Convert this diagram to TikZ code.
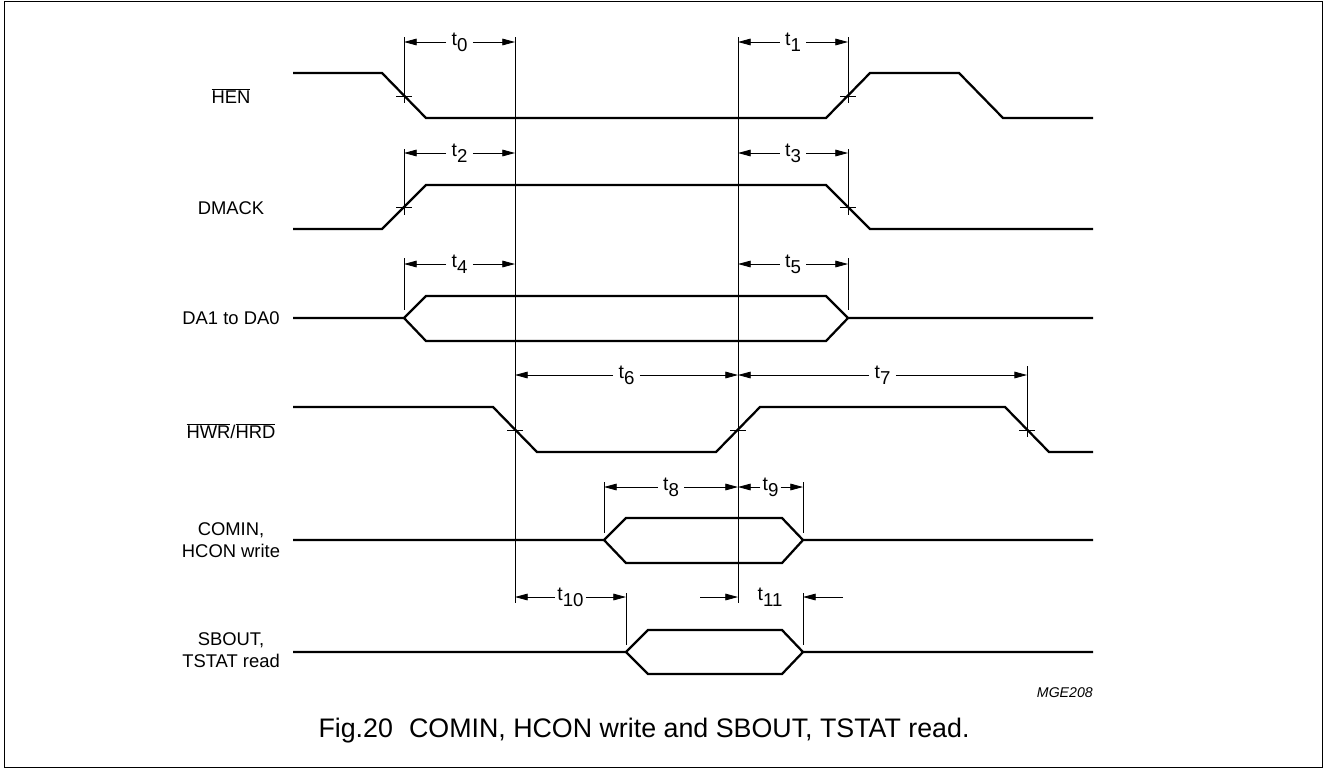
\documentclass[tikz,border=0pt]{standalone}
\usepackage{fontspec}
\setmainfont{Liberation Sans}
\usetikzlibrary{arrows.meta}
\tikzset{
  sig/.style={line width=1.7pt},
  markline/.style={line width=0.6pt},
  dim/.style={line width=0.6pt,-{Triangle[length=9.5pt,width=5pt]}},
  lbl/.style={font=\fontsize{13.8}{17}\selectfont,align=center,inner sep=1pt},
  tlbl/.style={font=\fontsize{14.5}{16}\selectfont,inner sep=4pt}
}
\newcommand{\tn}[1]{t\raisebox{-4.5pt}{\fontsize{14}{14}\selectfont #1}}
% timing label between two marker lines, arrows pointing outwards
\newcommand{\dimlr}[6][4pt]{%
  \node[tlbl,inner sep=#1] (#2) at ({(#4+#5)/2},#3) {#6};
  \draw[dim] (#2.west) -- (#4,#3);
  \draw[dim] (#2.east) -- (#5,#3);
}

\begin{document}
\begin{tikzpicture}[x=0.75pt,y=-0.75pt]
  \useasboundingbox (0,0) rectangle (1326,769);
  \draw[line width=1.3pt] (4.5,1.5) rectangle (1322.5,767.5);

  % signal names
  \node[lbl] (hen) at (231,96) {$\overline{\mbox{HEN}}$};
  \node[lbl] (dmack) at (231,208) {DMACK};
  \node[lbl] (da) at (231,318) {DA1 to DA0};
  \node[lbl] (hwr) at (231,431) {$\overline{\mbox{HWR}}$/$\overline{\mbox{HRD}}$};
  \node[lbl] (comin) at (231,540) {COMIN,\\HCON write};
  \node[lbl] (sbout) at (231,650) {SBOUT,\\TSTAT read};

  % waveforms
  \draw[sig] (293,73) -- (382,73) -- (426,118) -- (826,118) -- (870,73) -- (959,73) -- (1003,118) -- (1093,118);
  \draw[sig] (293,229) -- (382,229) -- (426,185) -- (826,185) -- (870,229) -- (1093,229);
  \draw[sig] (293,318) -- (404,318) -- (426,296) -- (826,296) -- (848,318) -- (1093,318);
  \draw[sig] (404,318) -- (426,341) -- (826,341) -- (848,318);
  \draw[sig] (293,407) -- (493,407) -- (537,452) -- (716,452) -- (760,407) -- (1005,407) -- (1049,452) -- (1093,452);
  \draw[sig] (293,540) -- (604,540) -- (626,518) -- (782,518) -- (803,540) -- (1093,540);
  \draw[sig] (604,540) -- (626,563) -- (782,563) -- (803,540);
  \draw[sig] (293,652) -- (626,652) -- (648,630) -- (782,630) -- (803,652) -- (1093,652);
  \draw[sig] (626,652) -- (648,674) -- (782,674) -- (803,652);

  % marker lines
  \draw[markline] (515,37) -- (515,603);
  \draw[markline] (738,37) -- (738,603);
  \draw[markline] (404,37) -- (404,103);
  \draw[markline] (848,37) -- (848,103);
  \draw[markline] (404,149) -- (404,215);
  \draw[markline] (848,149) -- (848,215);
  \draw[markline] (404,258) -- (404,310);
  \draw[markline] (848,258) -- (848,310);
  \draw[markline] (1027,366) -- (1027,437);
  \draw[markline] (604,482) -- (604,533);
  \draw[markline] (803,482) -- (803,533);
  \draw[markline] (626,593) -- (626,645);
  \draw[markline] (803,593) -- (803,645);
  \foreach \x/\y in {404/96,848/96,404/207,848/207,515/430,738/430,1027/430}
    \draw[markline] (\x-8,\y) -- (\x+8,\y);

  % timing parameters
  \dimlr{t0}{42}{404}{515}{\tn{0}}
  \dimlr{t1}{42}{738}{848}{\tn{1}}
  \dimlr{t2}{153}{404}{515}{\tn{2}}
  \dimlr{t3}{153}{738}{848}{\tn{3}}
  \dimlr{t4}{264}{404}{515}{\tn{4}}
  \dimlr{t5}{264}{738}{848}{\tn{5}}
  \dimlr{t6}{375}{515}{738}{\tn{6}}
  \dimlr{t7}{375}{738}{1027}{\tn{7}}
  \dimlr{t8}{487}{604}{738}{\tn{8}}
  \dimlr[1.5pt]{t9}{487}{738}{803}{\tn{9}}
  \dimlr[1.5pt]{t10}{597}{515}{626}{\tn{10}}
  \node[tlbl] (t11) at (770,597) {\tn{11}};
  \coordinate (t11l) at (700,597);
  \coordinate (t11r) at (843,597);
  \draw[dim] (t11l) -- (738,597);
  \draw[dim] (t11r) -- (803,597);

  \node[anchor=east,inner sep=0pt,font=\itshape\fontsize{10.6}{12}\selectfont] (code) at (1093,693) {MGE208};
  \node[font=\fontsize{20.1}{24}\selectfont] (caption) at (644,731) {Fig.20\hspace{0.6em}COMIN, HCON write and SBOUT, TSTAT read.};
\end{tikzpicture}
\end{document}
